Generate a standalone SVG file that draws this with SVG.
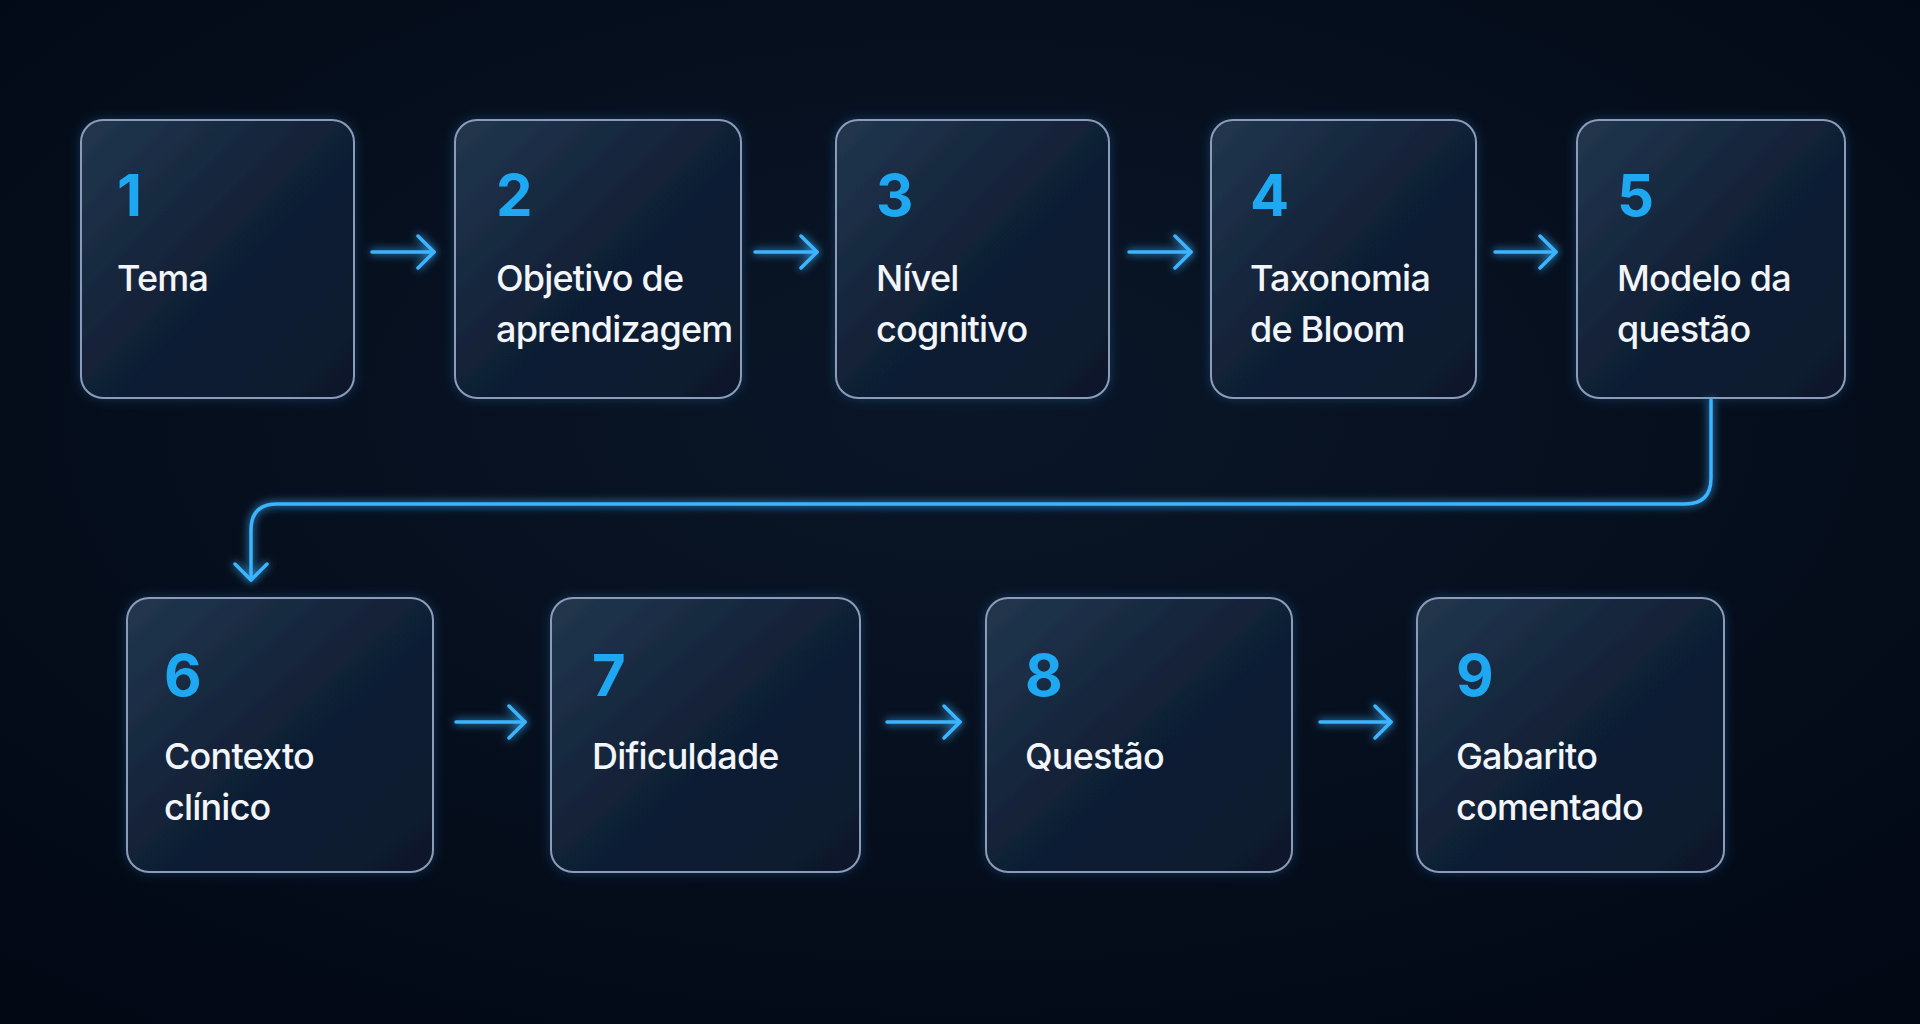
<svg xmlns="http://www.w3.org/2000/svg" width="1920" height="1024" viewBox="0 0 1920 1024">
<defs>
<radialGradient id="bg" cx="50%" cy="40%" r="75%"><stop offset="0" stop-color="#0a1628"/><stop offset="1" stop-color="#020814"/></radialGradient>
<linearGradient id="box" x1="0" y1="0" x2="1" y2="1"><stop offset="0" stop-color="#22374f"/><stop offset="0.5" stop-color="#112036"/><stop offset="1" stop-color="#0b182a"/></linearGradient>
<filter id="glow" filterUnits="userSpaceOnUse" x="0" y="0" width="1920" height="1024"><feGaussianBlur stdDeviation="4" result="b"/><feMerge><feMergeNode in="b"/><feMergeNode in="SourceGraphic"/></feMerge></filter>
<filter id="bglow" x="-20%" y="-20%" width="140%" height="140%"><feGaussianBlur stdDeviation="6" result="b"/><feFlood flood-color="#2a6fb0" flood-opacity="0.35"/><feComposite in2="b" operator="in" result="g"/><feMerge><feMergeNode in="g"/><feMergeNode in="SourceGraphic"/></feMerge></filter>
<marker id="ah2" markerWidth="40" markerHeight="40" refX="20" refY="20" orient="auto" markerUnits="userSpaceOnUse"><path d="M4,4 L20,20 L4,36" fill="none" stroke="#3db4ff" stroke-width="3.5" stroke-linecap="round" stroke-linejoin="round"/></marker>
</defs>
<style>
.b{fill:url(#box);stroke:#8a9cb8;stroke-width:2;filter:url(#bglow)}
.n{font-family:Inter,"Liberation Sans",sans-serif;font-weight:700;font-size:58px;fill:#1fa8f2}
.t{font-family:Inter,"Liberation Sans",sans-serif;font-weight:500;font-size:36px;letter-spacing:-0.8px;fill:#f2f5fa}
.c{fill:none;stroke:#3db4ff;stroke-width:3.5;stroke-linecap:round;filter:url(#glow)}
</style>
<rect width="1920" height="1024" fill="url(#bg)"/>
<g id="n1"><rect class="b" x="81" y="120" width="273" height="278" rx="22"/><text class="n" x="117" y="216">1</text><text class="t" x="117" y="291">Tema</text></g>
<g id="n2"><rect class="b" x="455" y="120" width="286" height="278" rx="22"/><text class="n" x="496" y="216">2</text><text class="t" x="496" y="291">Objetivo de</text><text class="t" x="496" y="342">aprendizagem</text></g>
<g id="n3"><rect class="b" x="836" y="120" width="273" height="278" rx="22"/><text class="n" x="876" y="216">3</text><text class="t" x="876" y="291">Nível</text><text class="t" x="876" y="342">cognitivo</text></g>
<g id="n4"><rect class="b" x="1211" y="120" width="265" height="278" rx="22"/><text class="n" x="1250" y="216">4</text><text class="t" x="1250" y="291">Taxonomia</text><text class="t" x="1250" y="342">de Bloom</text></g>
<g id="n5"><rect class="b" x="1577" y="120" width="268" height="278" rx="22"/><text class="n" x="1617" y="216">5</text><text class="t" x="1617" y="291">Modelo da</text><text class="t" x="1617" y="342">questão</text></g>
<g id="n6"><rect class="b" x="127" y="598" width="306" height="274" rx="22"/><text class="n" x="164" y="696">6</text><text class="t" x="164" y="769">Contexto</text><text class="t" x="164" y="820">clínico</text></g>
<g id="n7"><rect class="b" x="551" y="598" width="309" height="274" rx="22"/><text class="n" x="592" y="696">7</text><text class="t" x="592" y="769">Dificuldade</text></g>
<g id="n8"><rect class="b" x="986" y="598" width="306" height="274" rx="22"/><text class="n" x="1025" y="696">8</text><text class="t" x="1025" y="769">Questão</text></g>
<g id="n9"><rect class="b" x="1417" y="598" width="307" height="274" rx="22"/><text class="n" x="1456" y="696">9</text><text class="t" x="1456" y="769">Gabarito</text><text class="t" x="1456" y="820">comentado</text></g>
<g id="connectors">
<path class="c" d="M372,252 H434" marker-end="url(#ah2)"/>
<path class="c" d="M755,252 H817" marker-end="url(#ah2)"/>
<path class="c" d="M1129,252 H1191" marker-end="url(#ah2)"/>
<path class="c" d="M1495,252 H1556" marker-end="url(#ah2)"/>
<path class="c" d="M456,722 H525" marker-end="url(#ah2)"/>
<path class="c" d="M887,722 H960" marker-end="url(#ah2)"/>
<path class="c" d="M1320,722 H1391" marker-end="url(#ah2)"/>
<path class="c" d="M1711,400 V478 Q1711,504 1685,504 H277 Q251,504 251,530 V580" marker-end="url(#ah2)"/>
</g>
</svg>
